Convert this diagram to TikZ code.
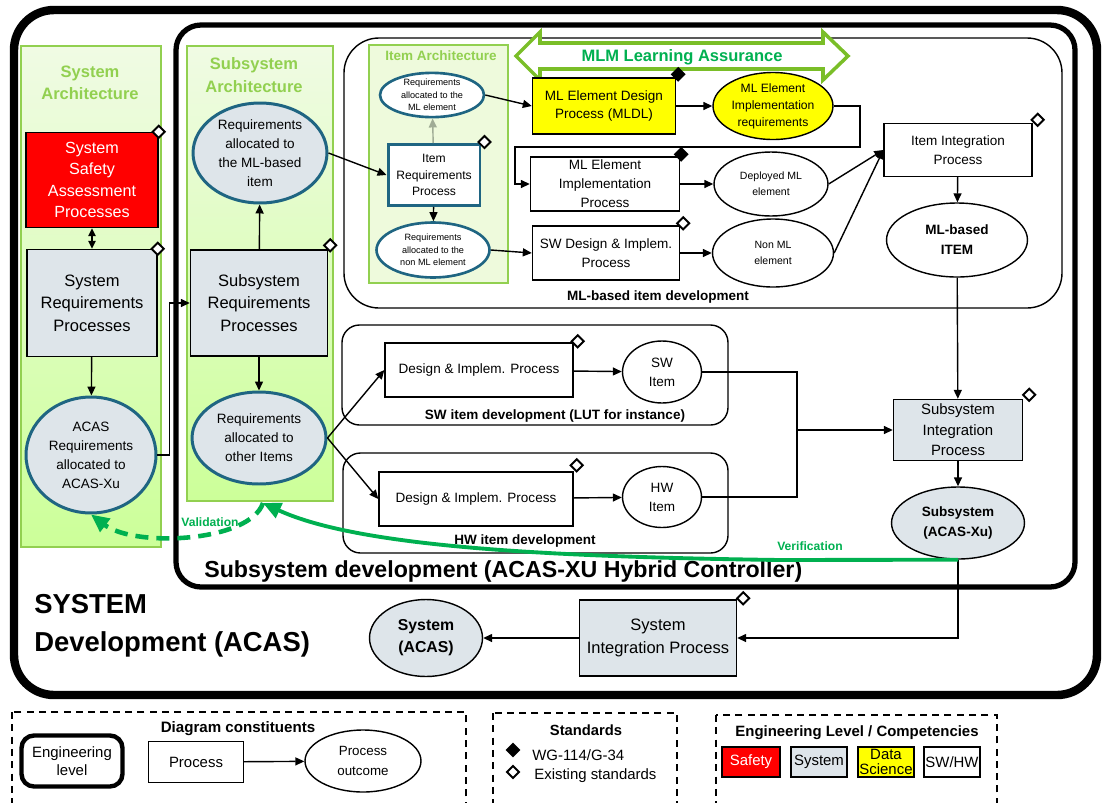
\documentclass[tikz,border=0pt]{standalone}
\usepackage{fontspec}
\setmainfont{Liberation Sans}
\usetikzlibrary{shapes.geometric,arrows.meta}

\definecolor{safetyred}{RGB}{255,0,0}
\definecolor{sysgray}{RGB}{222,229,234}
\definecolor{reqteal}{RGB}{31,101,130}
\definecolor{dsyellow}{RGB}{255,255,0}
\definecolor{archline}{RGB}{146,208,80}
\definecolor{archtop}{RGB}{240,251,228}
\definecolor{archbot}{RGB}{204,255,153}
\definecolor{itemarch}{RGB}{238,250,220}
\definecolor{mlmline}{RGB}{122,190,40}
\definecolor{vvgreen}{RGB}{0,176,80}
\definecolor{greyarr}{RGB}{160,172,150}

\begin{document}
\begin{tikzpicture}[x=0.02cm, y=-0.02cm,
    every node/.style={align=center, inner sep=0pt},
    proc/.style={draw, line width=0.8pt},
    outc/.style={ellipse, draw, line width=0.8pt},
    req/.style={ellipse, draw=reqteal, line width=1.7pt, fill=sysgray},
    arch/.style={draw=archline, line width=1.2pt, top color=archtop, bottom color=archbot},
    std/.style={diamond, draw, line width=1.1pt, fill=white, minimum size=0.26cm},
    wg/.style={std, fill=black},
    arr/.style={-{Triangle[length=0.18cm,width=0.16cm]}, line width=0.8pt},
    big/.style={font=\fontsize{9.4}{12.8}\selectfont},
    mid/.style={font=\fontsize{7.7}{10.8}\selectfont},
    sml/.style={font=\fontsize{6.9}{9.6}\selectfont},
    tny/.style={font=\fontsize{6}{9}\selectfont},
    mic/.style={font=\fontsize{5.2}{7}\selectfont},
    lbl/.style={font=\bfseries\fontsize{7.7}{9}\selectfont},
    leg/.style={font=\fontsize{8.5}{10}\selectfont},
    dash box/.style={line width=0.8pt, dash pattern=on 4pt off 3pt}]
    \useasboundingbox (0,0) rectangle (1103,802);

    % engineering levels
    \draw[line width=4.8pt, rounded corners=0.8cm] (14,10) rectangle (1097,695);
    \draw[arch] (21,46) rectangle (161,547);
    \draw[line width=3pt, rounded corners=0.5cm] (176,25) rectangle (1075,587);
    \draw[arch] (187,46) rectangle (333,501);
    \draw[line width=0.8pt, rounded corners=0.7cm] (344,38) rectangle (1062,308);
    \draw[draw=archline, line width=0.8pt, fill=itemarch] (369,45) rectangle (508,283);
    \draw[line width=0.8pt, rounded corners=0.35cm] (342,325) rectangle (728,425);
    \draw[line width=0.8pt, rounded corners=0.35cm] (343,453) rectangle (728,553);

    % learning assurance arrow
    \draw[mlmline, line width=2pt, fill=white] (516,56) -- (540,32) -- (540,43) -- (823,43) -- (823,32)
        -- (848,56) -- (823,80) -- (823,69) -- (540,69) -- (540,80) -- cycle;
    \node[font=\bfseries\fontsize{9.4}{11}\selectfont, text=vvgreen] (mlm) at (682,57) {MLM Learning Assurance};

    % titles
    \node[font=\bfseries\fontsize{9.4}{12.8}\selectfont, text=archline] (sysarch) at (90,83) {System\\Architecture};
    \node[font=\bfseries\fontsize{9.4}{12.8}\selectfont, text=archline] (subarch) at (254,75) {Subsystem\\Architecture};
    \node[font=\bfseries\fontsize{7.7}{9}\selectfont, text=archline] (itemarch) at (441,56) {Item Architecture};
    \node[lbl] (mldev) at (658,297) {ML-based item development};
    \node[lbl] (swdev) at (555,416) {SW item development (LUT for instance)};
    \node[lbl] (hwdev) at (525,541) {HW item development};
    \node[anchor=west, font=\bfseries\fontsize{13.2}{15}\selectfont] (subdev) at (204,571) {Subsystem development (ACAS-XU Hybrid Controller)};
    \node[anchor=west, align=left, font=\bfseries\fontsize{15.6}{21.8}\selectfont] (sysdev) at (34,626) {SYSTEM\\Development (ACAS)};

    % system architecture
    \node[proc, big, fill=safetyred, text=white, font=\fontsize{9.2}{12.3}\selectfont, minimum width=2.64cm, minimum height=1.9cm] (ssa) at (92,180) {System\\Safety\\Assessment\\Processes};
    \node[proc, big, fill=sysgray, minimum width=2.6cm, minimum height=2.14cm] (sysreq) at (92,303) {System\\Requirements\\Processes};
    \node[req, mid, minimum width=2.6cm, minimum height=2.32cm] (acasreq) at (91,455) {ACAS\\Requirements\\allocated to\\ACAS-Xu};

    % subsystem architecture
    \node[proc, big, fill=sysgray, minimum width=2.74cm, minimum height=2.12cm] (subreq) at (259,303) {Subsystem\\Requirements\\Processes};
    \node[req, mid, minimum width=2.68cm, minimum height=2cm] (reqml) at (260,153) {Requirements\\allocated to\\the ML-based\\item};
    \node[req, mid, minimum width=2.68cm, minimum height=1.84cm] (reqother) at (259,438) {Requirements\\allocated to\\other Items};

    % item architecture
    \node[req, mic, fill=white, line width=1.5pt, minimum width=2.08cm, minimum height=0.88cm] (mlel) at (432,95) {Requirements\\allocated to the\\ML element};
    \node[proc, sml, draw=reqteal, line width=1.7pt, fill=white, minimum width=1.84cm, minimum height=1.22cm] (itemreq) at (434,175) {Item\\Requirements\\Process};
    \node[req, mic, fill=white, line width=1.5pt, minimum width=2.26cm, minimum height=1.1cm] (nonml) at (433,250) {Requirements\\allocated to the\\non ML element};

    % ML-based item
    \node[proc, mid, fill=dsyellow, minimum width=2.86cm, minimum height=1.12cm] (mldl) at (604,106) {ML Element Design\\Process (MLDL)};
    \node[outc, sml, fill=dsyellow, minimum width=2.4cm, minimum height=1.34cm] (mlimpreq) at (773,106) {ML Element\\Implementation\\requirements};
    \node[proc, mid, minimum width=2.98cm, minimum height=1.08cm] (mlimp) at (605,184) {ML Element\\Implementation\\Process};
    \node[outc, tny, minimum width=2.28cm, minimum height=1.28cm] (deployed) at (771,184) {Deployed ML\\element};
    \node[proc, mid, minimum width=2.94cm, minimum height=1.08cm] (swdes) at (606,253) {SW Design \& Implem.\\Process};
    \node[outc, tny, minimum width=2.42cm, minimum height=1.36cm] (nonmlel) at (773,253) {Non ML\\element};
    \node[proc, mid, minimum width=2.96cm, minimum height=1.06cm] (itemint) at (958,150) {Item Integration\\Process};
    \node[outc, font=\bfseries\fontsize{7.7}{11.3}\selectfont, minimum width=2.82cm, minimum height=1.48cm] (mlitem) at (957,240) {ML-based\\ITEM};

    % SW and HW items
    \node[proc, mid, minimum width=3.76cm, minimum height=1.08cm] (swproc) at (479,370) {Design \& Implem. Process};
    \node[outc, mid, minimum width=1.58cm, minimum height=1.24cm] (switem) at (662,372) {SW\\Item};
    \node[proc, mid, minimum width=3.88cm, minimum height=1.08cm] (hwproc) at (476,499) {Design \& Implem. Process};
    \node[outc, mid, minimum width=1.58cm, minimum height=1.22cm] (hwitem) at (662,497) {HW\\Item};

    % integration
    \node[proc, font=\fontsize{8.5}{11.7}\selectfont, fill=sysgray, minimum width=2.58cm, minimum height=1.22cm] (subint) at (958,430) {Subsystem\\Integration\\Process};
    \node[outc, font=\bfseries\fontsize{7.7}{11.3}\selectfont, fill=sysgray, minimum width=2.66cm, minimum height=1.44cm] (subsys) at (958,523) {Subsystem\\(ACAS-Xu)};
    \node[proc, big, fill=sysgray, minimum width=3.14cm, minimum height=1.52cm] (sysint) at (658,638) {System\\Integration Process};
    \node[outc, font=\bfseries\fontsize{9}{12.4}\selectfont, fill=sysgray, minimum width=2.26cm, minimum height=1.54cm] (sysacas) at (426,638) {System\\(ACAS)};

    % standards
    \node[std] (d1) at ([shift={(0,0)}]ssa.north east) {};
    \node[std] (d2) at ([shift={(0,0)}]sysreq.north east) {};
    \node[std] (d3) at ([shift={(2,-4)}]subreq.north east) {};
    \node[std] (d4) at ([shift={(3,-1)}]itemreq.north east) {};
    \node[wg] (d5) at ([shift={(2,-3)}]mldl.north east) {};
    \node[wg] (d6) at ([shift={(1,-2)}]mlimp.north east) {};
    \node[std] (d7) at ([shift={(3,-2)}]swdes.north east) {};
    \node[std] (d8) at ([shift={(5,-3)}]itemint.north east) {};
    \node[std] (d9) at ([shift={(4,-1)}]swproc.north east) {};
    \node[std] (d10) at ([shift={(3,-6)}]hwproc.north east) {};
    \node[std] (d11) at ([shift={(6,-4)}]subint.north east) {};
    \node[std] (d12) at ([shift={(6,-1)}]sysint.north east) {};

    % flows
    \draw[<->, >={Triangle[length=0.16cm,width=0.15cm]}, line width=0.8pt] (ssa) -- (sysreq);
    \draw[arr] (sysreq) -- (acasreq);
    \draw[arr] (acasreq.east) -- ++(12,0) |- (subreq.west);
    \draw[arr] (subreq) -- (reqml);
    \draw[arr] (subreq) -- (reqother);
    \draw[arr] (reqml.east) -- (itemreq.west);
    \draw[arr, greyarr] (itemreq) -- (mlel);
    \draw[arr] (itemreq) -- (nonml);
    \draw[arr] (mlel.east) -- (mldl.west);
    \draw[arr] (nonml.east) -- (swdes.west);
    \draw[arr] (mldl) -- (mlimpreq);
    \draw[arr] (mlimpreq.east) -| (860,147) -| (515,184) -- (mlimp.west);
    \draw[arr] (mlimp) -- (deployed);
    \draw[arr] (swdes) -- (nonmlel);
    \draw[arr] (deployed.east) -- (itemint.west);
    \draw[arr] (nonmlel.east) -- (itemint.west);
    \draw[arr] (itemint) -- (mlitem);
    \draw[arr] (mlitem) -- (subint);
    \draw[arr] (reqother.east) -- (swproc.west);
    \draw[arr] (reqother.east) -- (hwproc.west);
    \draw[arr] (swproc) -- (switem);
    \draw[arr] (hwproc) -- (hwitem);
    \coordinate (join) at (797,430);
    \draw[line width=0.8pt] (switem.east) -| (join);
    \draw[line width=0.8pt] (hwitem.east) -| (join);
    \draw[arr] (join) -- (subint.west);
    \draw[arr] (subint) -- (subsys);
    \draw[arr] (subsys.south) |- (sysint.east);
    \draw[arr] (sysint) -- (sysacas);

    % verification and validation
    \coordinate (subarchbot) at (263,503);
    \draw[vvgreen, line width=2.2pt, -{Triangle[length=0.36cm,width=0.32cm]}] (subsys.south) -- (780,560)
        .. controls (560,557) and (360,548) .. (subarchbot);
    \draw[vvgreen, line width=2.6pt, dash pattern=on 0.26cm off 0.16cm, -{Triangle[length=0.36cm,width=0.32cm]}] (subarchbot)
        .. controls (250,542) and (135,548) .. (acasreq.south);
    \node[font=\bfseries\fontsize{6.9}{8}\selectfont, text=vvgreen] (valid) at (210,522) {Validation};
    \node[font=\bfseries\fontsize{6.9}{8}\selectfont, text=vvgreen] (verif) at (810,546) {Verification};

    % legend
    \draw[dash box] (12,712) rectangle (466,810);
    \node[font=\bfseries\fontsize{8.6}{10}\selectfont] (legt) at (238,729) {Diagram constituents};
    \node[draw, line width=2.5pt, rounded corners=0.25cm, leg, minimum width=2.02cm, minimum height=1.02cm] (leglvl) at (72,761) {Engineering\\level};
    \node[proc, leg, minimum width=1.9cm, minimum height=0.82cm] (legproc) at (196,762) {Process};
    \node[outc, font=\fontsize{7.6}{11}\selectfont, minimum width=2.32cm, minimum height=1.24cm] (legout) at (363,761) {Process\\outcome};
    \draw[arr] (legproc) -- (legout);

    \draw[dash box] (493,713) rectangle (677,810);
    \node[font=\bfseries\fontsize{8.4}{10}\selectfont] (stdt) at (586,730) {Standards};
    \node[wg, minimum size=0.26cm] (legwg) at (513,750) {};
    \node[leg, anchor=west] (legwgt) at (532,755) {WG-114/G-34};
    \node[std, minimum size=0.26cm] (legex) at (513,772) {};
    \node[leg, anchor=west] (legext) at (534,776) {Existing standards};

    \draw[dash box] (716,715) rectangle (997,810);
    \node[font=\bfseries\fontsize{8.5}{10}\selectfont] (compt) at (857,733) {Engineering Level / Competencies};
    \node[proc, leg, fill=safetyred, text=white, minimum width=1.16cm, minimum height=0.6cm] (cs) at (751,762) {Safety};
    \node[proc, leg, fill=sysgray, minimum width=1.12cm, minimum height=0.6cm] (cy) at (819,762) {System};
    \node[proc, leg, fill=dsyellow, minimum width=1.12cm, minimum height=0.6cm, font=\fontsize{8.5}{9}\selectfont] (cd) at (886,762) {Data\\Science};
    \node[proc, leg, minimum width=1.12cm, minimum height=0.6cm] (cw) at (952,762) {SW/HW};
\end{tikzpicture}
\end{document}
